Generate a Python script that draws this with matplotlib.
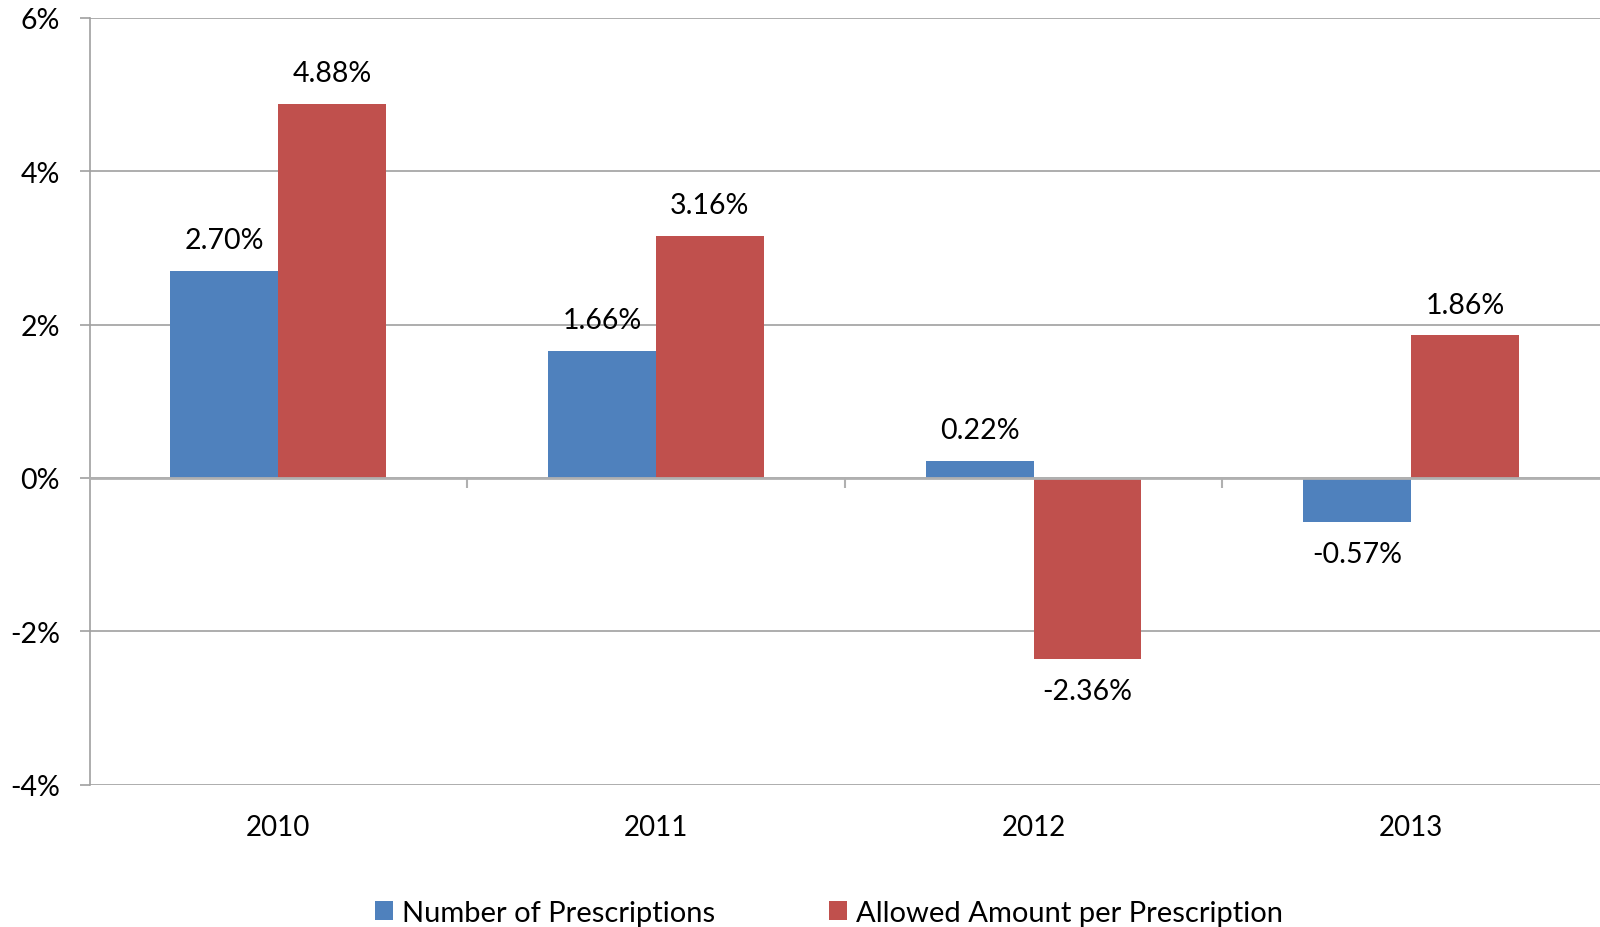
import matplotlib
matplotlib.use("Agg")
import matplotlib.pyplot as plt
import numpy as np
from matplotlib.patches import Patch
from matplotlib.ticker import FuncFormatter
import matplotlib.transforms as mtransforms

years = ["2010", "2011", "2012", "2013"]
series_names = ["Number of Prescriptions", "Allowed Amount per Prescription"]
num_prescriptions = [2.70, 1.66, 0.22, -0.57]
allowed_amount = [4.88, 3.16, -2.36, 1.86]
colors = ["#4F81BD", "#C0504D"]
y_ticks = [-4, -2, 0, 2, 4, 6]

plt.rcParams['font.family'] = ['Lato', 'DejaVu Sans']
FS = 20.5

fig = plt.figure(figsize=(16, 9.28), dpi=100)
ax = fig.add_axes([89.5 / 1600, 1 - 785.5 / 928, 1 - 89.5 / 1600, (785.5 - 19) / 928])

x = np.arange(len(years))
w = 1 / 3.5
series = [num_prescriptions, allowed_amount]
for i, (vals, col) in enumerate(zip(series, colors)):
    offs = (i - 0.5) * w
    bars = ax.bar(x + offs, vals, width=w, color=col, zorder=3)
    for b, v in zip(bars, vals):
        yoff = 22 if v >= 0 else -23
        ax.annotate(f"{v:.2f}%", (b.get_x() + b.get_width() / 2, v),
                    xytext=(0, yoff), textcoords="offset points",
                    ha="center", va="center", fontsize=FS, color="black")

ax.set_xlim(-0.5, len(years) - 0.5)
ax.set_ylim(-4, 6)
ax.set_yticks(y_ticks)
ax.yaxis.set_major_formatter(FuncFormatter(lambda v, p: f"{v:.0f}%"))
ax.yaxis.grid(True, color="#A0A0A0", linewidth=1.2, zorder=0)
ax.set_axisbelow(True)
ax.tick_params(axis="y", length=7.4, width=1.2, color="#A0A0A0", pad=14, labelsize=FS)

for s in ["top", "right"]:
    ax.spines[s].set_visible(False)
ax.spines["left"].set_color("#A0A0A0")
ax.spines["left"].set_linewidth(1.2)
ax.spines["bottom"].set_position(("data", 0))
ax.spines["bottom"].set_color("#B0B0B0")
ax.spines["bottom"].set_linewidth(2)
ax.spines["bottom"].set_zorder(4)

ax.set_xticks(np.arange(len(years) - 1) + 0.5)
ax.set_xticklabels([])
ax.tick_params(axis="x", length=7.4, width=1.5, color="#B0B0B0")

trans = mtransforms.blended_transform_factory(ax.transData, ax.transAxes)
for xi, yr in zip(x, years):
    ax.text(xi, -0.055, yr, transform=trans, ha="center", va="center", fontsize=20)

handles = [Patch(facecolor=c, edgecolor="none") for c in colors]
fig.legend(handles, series_names, loc="center", bbox_to_anchor=(829 / 1600, 1 - 914 / 928),
           ncol=2, frameon=False, fontsize=21, handlelength=0.62, handleheight=0.62,
           handletextpad=0.3, columnspacing=3.9)

fig.savefig("out.png", dpi=100)
